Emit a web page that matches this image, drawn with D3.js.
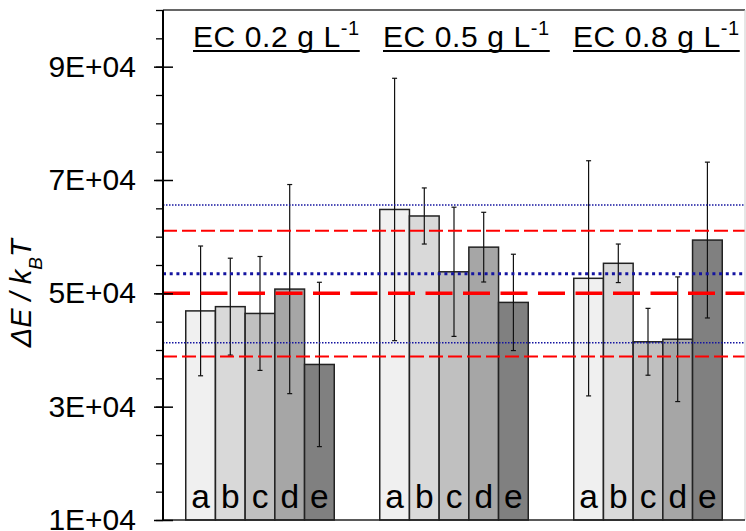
<!DOCTYPE html>
<html>
<head>
<meta charset="utf-8">
<script src="https://cdn.jsdelivr.net/npm/d3@7"></script>
<style>
  body { margin: 0; background: #fff; }
  text { font-family: "Liberation Sans", Arial, sans-serif; fill: #000; }
</style>
</head>
<body>
<div id="chart"></div>
<script>
// ---- data ----
const groups = ["EC 0.2", "EC 0.5", "EC 0.8"];
const letters = ["a", "b", "c", "d", "e"];

// bar heights per group (dE / kBT)
const values02 = [46900, 47650, 46450, 50750, 37450];
const values05 = [64800, 63650, 53800, 58150, 48400];
const values08 = [52650, 55300, 41450, 41900, 59400];

// symmetric error bar half-widths
const errors02 = [11450, 8550, 10050, 18450, 14500];
const errors05 = [23150, 4950, 11400, 6150, 8500];
const errors08 = [20750, 3400, 5900, 11000, 13750];

// horizontal reference lines: [lower, mean, upper]
const redLines = [38850, 50000, 61050];
const blueLines = [41300, 53470, 65600];

const yMajorTicks = [10000, 30000, 50000, 70000, 90000];

// ---- layout ----
const W = 746, H = 531;
const plotLeft = 163, plotRight = 745, plotTop = 10, plotBottom = 520;

const barColors = ["#f0f0f0", "#d9d9d9", "#c0c0c0", "#a6a6a6", "#808080"];

const svg = d3.select("#chart").append("svg")
    .attr("width", W)
    .attr("height", H);

const y = d3.scaleLinear().domain([10000, 100000]).range([plotBottom, plotTop]);

const x0 = d3.scaleBand().domain(groups).range([plotLeft, plotRight])
    .paddingInner(0.2345).paddingOuter(0.11725);
const x1 = d3.scaleBand().domain(letters).range([0, x0.bandwidth()]);
const color = d3.scaleOrdinal().domain(letters).range(barColors);

const allValues = [values02, values05, values08];
const allErrors = [errors02, errors05, errors08];
const bars = [];
groups.forEach((g, gi) => {
  letters.forEach((l, li) => {
    bars.push({group: g, letter: l, value: allValues[gi][li], err: allErrors[gi][li]});
  });
});

// ---- bars ----
const barG = svg.append("g");
barG.selectAll("rect").data(bars).enter().append("rect")
    .attr("x", d => x0(d.group) + x1(d.letter))
    .attr("y", d => y(d.value))
    .attr("width", x1.bandwidth())
    .attr("height", d => plotBottom - y(d.value))
    .attr("fill", d => color(d.letter))
    .attr("stroke", "#222")
    .attr("stroke-width", 1.5);

// letters inside bars
barG.selectAll("text.lab").data(bars).enter().append("text")
    .attr("class", "lab")
    .attr("x", d => x0(d.group) + x1(d.letter) + x1.bandwidth() / 2)
    .attr("y", 507.5)
    .attr("text-anchor", "middle")
    .attr("font-size", 33.5)
    .text(d => d.letter);

// ---- error bars ----
const errG = svg.append("g").attr("stroke", "#111").attr("stroke-width", 1.2);
const cx = d => x0(d.group) + x1(d.letter) + x1.bandwidth() / 2;
errG.selectAll("line.v").data(bars).enter().append("line")
    .attr("x1", cx).attr("x2", cx)
    .attr("y1", d => y(d.value + d.err))
    .attr("y2", d => y(d.value - d.err));
errG.selectAll("line.t").data(bars).enter().append("line")
    .attr("x1", d => cx(d) - 2.5).attr("x2", d => cx(d) + 2.5)
    .attr("y1", d => y(d.value + d.err)).attr("y2", d => y(d.value + d.err));
errG.selectAll("line.b").data(bars).enter().append("line")
    .attr("x1", d => cx(d) - 2.5).attr("x2", d => cx(d) + 2.5)
    .attr("y1", d => y(d.value - d.err)).attr("y2", d => y(d.value - d.err));

// ---- reference lines ----
const refG = svg.append("g");
refG.selectAll("line.red").data(redLines).enter().append("line")
    .attr("x1", plotLeft).attr("x2", plotRight)
    .attr("y1", d => y(d)).attr("y2", d => y(d))
    .attr("stroke", "#ff0000")
    .attr("stroke-width", (d, i) => i === 1 ? 3.5 : 2)
    .attr("stroke-dasharray", (d, i) => i === 1 ? "27,10.5" : "14,5");
refG.selectAll("line.blue").data(blueLines).enter().append("line")
    .attr("x1", plotLeft).attr("x2", plotRight)
    .attr("y1", d => y(d)).attr("y2", d => y(d))
    .attr("stroke", "#1414a0")
    .attr("stroke-width", (d, i) => i === 1 ? 3 : 1.5)
    .attr("stroke-dasharray", (d, i) => i === 1 ? "3,3.7" : "1.5,1.5");

// ---- frame ----
svg.append("line").attr("x1", plotLeft).attr("x2", plotRight).attr("y1", plotTop).attr("y2", plotTop)
    .attr("stroke", "#333").attr("stroke-width", 1.5);
svg.append("line").attr("x1", plotRight).attr("x2", plotRight).attr("y1", plotTop).attr("y2", plotBottom)
    .attr("stroke", "#ccc").attr("stroke-width", 1);
svg.append("line").attr("x1", plotLeft).attr("x2", plotRight).attr("y1", plotBottom).attr("y2", plotBottom)
    .attr("stroke", "#222").attr("stroke-width", 1.5);

// ---- y axis ----
const minorAxis = d3.axisLeft(y).tickValues(d3.range(10000, 100001, 5000))
    .tickSize(7).tickFormat("");
svg.append("g").attr("transform", `translate(${plotLeft},0)`).call(minorAxis)
    .call(g => g.select(".domain").remove())
    .selectAll("line").attr("stroke", "#000").attr("stroke-width", 1.3);

const yAxis = d3.axisLeft(y).tickValues(yMajorTicks)
    .tickSizeInner(9).tickSizeOuter(0).tickPadding(18)
    .tickFormat(d => (d / 10000) + "E+04");
const ya = svg.append("g").attr("transform", `translate(${plotLeft},0)`).call(yAxis);
ya.select(".domain").attr("stroke", "#000").attr("stroke-width", 2)
    .attr("d", `M0,${plotTop}V${plotBottom}`);
ya.selectAll(".tick line").attr("x2", -9).attr("x1", 10)
    .attr("stroke", "#000").attr("stroke-width", 1.5);
ya.selectAll(".tick text").attr("font-size", 30)
    .attr("font-family", "Liberation Sans, Arial, sans-serif").attr("fill", "#000");

// y axis title
const yt = svg.append("text")
    .attr("transform", `translate(31,${y(50000)}) rotate(-90)`)
    .attr("text-anchor", "middle")
    .attr("font-size", 29)
    .attr("font-style", "italic");
yt.append("tspan").text("ΔE / k");
yt.append("tspan").attr("font-size", 19).attr("baseline-shift", "sub").text("B");
yt.append("tspan").text("T");

// ---- group titles ----
const titleX = d3.scalePoint().domain(groups).range([193, 573]);
groups.forEach(g => {
  const t = svg.append("text")
      .attr("x", titleX(g)).attr("y", 46.5)
      .attr("font-size", 30)
      .attr("letter-spacing", 0.6);
  t.append("tspan").text(g + " g L");
  t.append("tspan").attr("font-size", 20).attr("dy", -12).text("-1");
  const w = t.node().getBBox().width;
  svg.append("line")
      .attr("x1", titleX(g)).attr("x2", titleX(g) + w)
      .attr("y1", 51).attr("y2", 51)
      .attr("stroke", "#000").attr("stroke-width", 2);
});
</script>
</body>
</html>
